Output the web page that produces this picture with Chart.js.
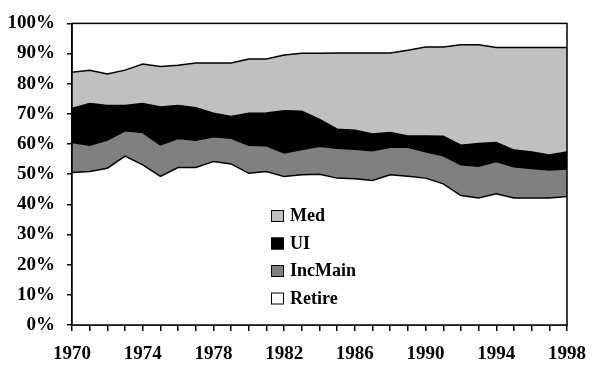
<!DOCTYPE html>
<html>
<head>
<meta charset="utf-8">
<script src="https://cdn.jsdelivr.net/npm/chart.js"></script>
<style>
  html, body { margin: 0; padding: 0; background: #fff; }
  #wrap { width: 598px; height: 381px; }
</style>
</head>
<body>
<div id="wrap"><canvas id="chart" width="598" height="381"></canvas></div>
<script>
// Shares of spending by program, percent of total, 1970-1998
const years = ['1970', '1971', '1972', '1973', '1974', '1975', '1976', '1977', '1978', '1979',
               '1980', '1981', '1982', '1983', '1984', '1985', '1986', '1987', '1988', '1989',
               '1990', '1991', '1992', '1993', '1994', '1995', '1996', '1997', '1998'];

const retire  = [50.6, 50.9, 52.0, 56.0, 53.1, 49.3, 52.2, 52.2, 54.2, 53.4,
                 50.3, 50.9, 49.2, 49.8, 50.0, 48.7, 48.5, 47.9, 49.8, 49.3,
                 48.7, 46.8, 42.9, 42.1, 43.5, 42.1, 42.1, 42.1, 42.6];
const incMain = [9.9, 8.7, 9.3, 8.4, 10.7, 10.4, 9.6, 9.1, 8.2, 8.5,
                 9.3, 8.5, 7.8, 8.4, 9.3, 9.9, 9.8, 9.9, 9.1, 9.6,
                 8.7, 9.3, 10.2, 10.5, 10.7, 10.4, 9.8, 9.3, 9.1];
const ui      = [11.3, 13.8, 11.5, 8.4, 9.6, 12.6, 11.0, 10.7, 7.8, 7.2,
                 10.6, 10.9, 14.0, 12.7, 8.9, 6.3, 6.3, 5.5, 4.9, 3.8,
                 5.3, 6.5, 6.5, 7.6, 6.3, 5.5, 5.5, 5.0, 5.7];
const med     = [12.0, 11.1, 10.4, 11.7, 13.1, 13.4, 13.3, 14.9, 16.7, 17.8,
                 18.0, 17.9, 18.5, 19.2, 21.9, 25.3, 25.6, 26.9, 26.4, 28.4,
                 29.5, 29.6, 33.3, 32.7, 31.5, 34.0, 34.6, 35.6, 34.6];

const yTicks = [0, 10, 20, 30, 40, 50, 60, 70, 80, 90, 100];
const labeledYears = ['1970', '1974', '1978', '1982', '1986', '1990', '1994', '1998'];

const FONT = { family: '"Liberation Serif", "Times New Roman", serif', size: 19, weight: 'bold' };

function area(label, data, color, fill) {
  return {
    label: label,
    data: data,
    backgroundColor: color,
    borderColor: '#000',
    borderWidth: 1.5,
    pointRadius: 0,
    tension: 0,
    fill: fill
  };
}

// frame around the plot plus the legend sitting inside it
const framePlugin = {
  id: 'frameAndLegend',
  afterDraw(chart) {
    const { ctx, chartArea: a } = chart;
    ctx.save();
    ctx.strokeStyle = '#000';
    ctx.lineWidth = 1.5;
    ctx.strokeRect(a.left, a.top, a.right - a.left, a.bottom - a.top);

    const items = chart.data.datasets.slice().reverse();
    const bx = a.left + 199;
    let by = 210;
    ctx.font = 'bold 18px "Liberation Serif", "Times New Roman", serif';
    ctx.textBaseline = 'middle';
    items.forEach(ds => {
      ctx.fillStyle = ds.backgroundColor;
      ctx.fillRect(bx, by, 13, 12);
      ctx.lineWidth = 1;
      ctx.strokeRect(bx + 0.5, by + 0.5, 12, 11);
      ctx.fillStyle = '#000';
      ctx.fillText(ds.label, bx + 19, by + 6.5);
      by += 27.5;
    });
    ctx.restore();
  }
};

new Chart(document.getElementById('chart'), {
  type: 'line',
  data: {
    labels: years,
    datasets: [
      area('Retire', retire, '#ffffff', 'origin'),
      area('IncMain', incMain, '#808080', '-1'),
      area('UI', ui, '#000000', '-1'),
      area('Med', med, '#c0c0c0', '-1')
    ]
  },
  options: {
    responsive: false,
    animation: false,
    layout: { padding: { top: 23, right: 31, left: 0, bottom: 0 } },
    plugins: {
      legend: { display: false },
      tooltip: { enabled: false }
    },
    scales: {
      x: {
        type: 'category',
        offset: false,
        grid: { drawOnChartArea: false, color: '#000', lineWidth: 1.5, tickLength: 6 },
        border: { color: '#000', width: 1.5 },
        ticks: {
          autoSkip: false,
          maxRotation: 0,
          padding: 12,
          color: '#000',
          font: FONT,
          callback(v) {
            const y = this.getLabelForValue(v);
            return labeledYears.includes(y) ? y : '';
          }
        },
        afterFit(scale) { scale.height = 56; }
      },
      y: {
        stacked: true,
        min: 0,
        max: 100,
        afterBuildTicks(scale) { scale.ticks = yTicks.map(v => ({ value: v })); },
        grid: { drawOnChartArea: false, color: '#000', lineWidth: 1.5, tickLength: 5 },
        border: { color: '#000', width: 1.5 },
        ticks: {
          padding: 12,
          color: '#000',
          font: FONT,
          callback: v => v + '%'
        },
        afterFit(scale) { scale.width = 72; }
      }
    }
  },
  plugins: [framePlugin]
});
</script>
</body>
</html>
